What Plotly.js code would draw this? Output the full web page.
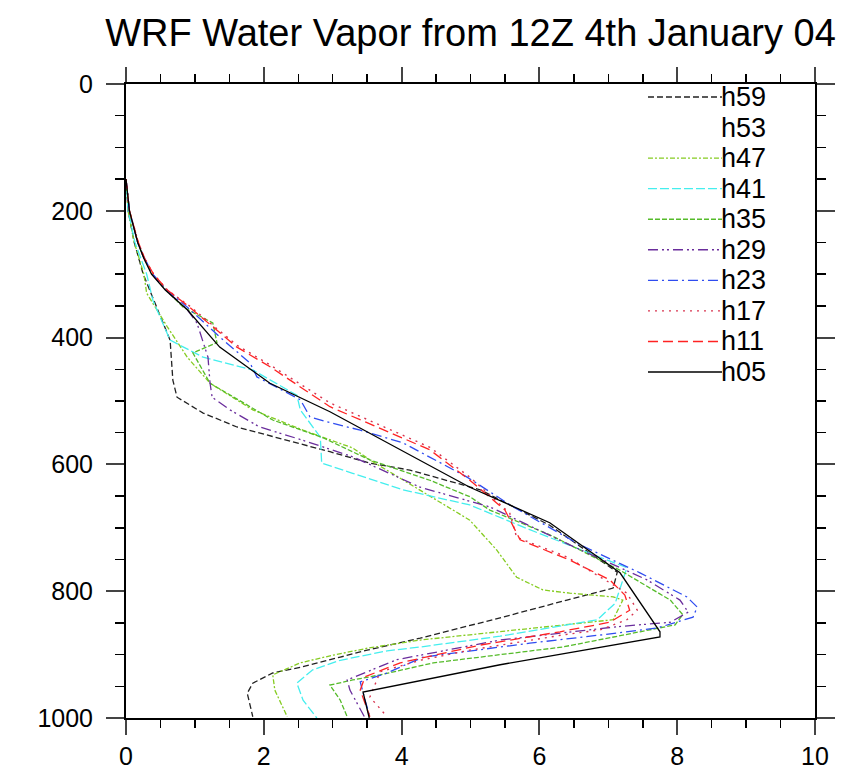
<!DOCTYPE html>
<html>
<head>
<meta charset="utf-8">
<script src="https://cdn.plot.ly/plotly-3.0.1.min.js"></script>
<style>html,body{margin:0;padding:0;background:#fff;}#chart{width:868px;height:778px;}</style>
</head>
<body>
<div id="chart"></div>
<script>
// Series names (legend order, top to bottom)
const seriesNames = ["h59","h53","h47","h41","h35","h29","h23","h17","h11","h05"];

// Pressure (hPa) and water vapour values for each series
const h59_p = [150,200,250,300,404,467,494,519,541,562,580,598,609,640,696,770,795,814,842,874,893,904,920,929,945,961,979,998];
const h59_v = [0,0.03,0.12,0.25,0.64,0.68,0.74,1.12,1.61,2.34,2.96,3.54,4.12,5.14,6.15,7.13,7.07,6.40,5.43,4.27,3.50,3.11,2.53,2.13,1.84,1.76,1.80,1.84];

const h53_p = [null];
const h53_v = [null];

const h47_p = [150,200,250,300,330,383,431,472,514,546,574,593,688,735,778,798,803,809,814,845,877,890,901,913,932,956,998];
const h47_v = [0,0.03,0.12,0.26,0.30,0.60,0.89,1.22,1.84,2.57,3.29,3.54,4.99,5.38,5.67,6.05,6.44,7.07,7.21,7.07,4.27,3.50,3.00,2.53,2.13,2.16,2.34];

const h41_p = [150,200,250,300,341,404,431,451,491,514,557,598,614,640,664,703,763,819,845,871,888,894,909,924,945,972,1000];
const h41_v = [0,0.03,0.13,0.30,0.39,0.64,1.12,1.84,2.48,2.53,2.82,2.84,3.29,4.02,4.99,5.86,7.27,7.10,6.84,5.43,4.27,3.79,3.11,2.71,2.48,2.57,2.77];

const h35_p = [150,200,250,275,300,325,352,377,408,424,472,530,558,593,625,651,672,711,767,814,837,853,864,888,913,932,940,948,972,998];
const h35_v = [0,0.05,0.17,0.26,0.38,0.58,0.83,1.26,1.32,0.97,1.22,2.13,2.86,3.54,4.41,4.99,5.28,6.15,7.17,7.90,8.08,7.97,7.46,6.34,4.46,3.69,3.29,2.96,3.11,3.21];

const h29_p = [150,200,250,275,300,325,356,377,431,472,494,514,541,562,588,636,667,727,782,814,833,849,856,877,908,940,956,987,1000];
const h29_v = [0,0.05,0.17,0.26,0.38,0.58,0.89,1.03,1.19,1.22,1.25,1.51,1.94,2.57,3.29,4.27,5.28,6.44,7.56,8.04,8.16,7.90,7.13,5.43,3.93,3.21,3.25,3.40,3.47];

const h23_p = [150,200,250,275,300,325,352,399,440,462,498,525,533,546,566,620,667,727,771,809,825,841,858,866,882,904,929,943,972,998];
const h23_v = [0,0.05,0.17,0.27,0.39,0.59,0.89,1.36,1.80,1.90,2.53,2.67,2.92,3.40,4.02,4.95,5.62,6.59,7.46,8.14,8.29,8.23,7.71,7.13,5.86,4.31,3.79,3.40,3.47,3.54];

const h17_p = [150,200,250,275,300,325,350,412,443,503,573,620,677,715,746,778,803,830,845,861,869,893,909,927,967,998];
const h17_v = [0,0.05,0.18,0.27,0.40,0.60,0.92,1.61,2.09,2.96,4.41,4.99,5.57,5.67,6.40,6.88,7.27,7.42,7.27,6.88,6.34,4.99,4.27,3.69,3.54,3.79];

const h11_p = [150,200,250,275,300,325,350,415,446,509,577,625,672,719,751,782,806,830,849,864,885,913,935,956,998];
const h11_v = [0,0.05,0.18,0.27,0.40,0.60,0.90,1.61,2.09,2.96,4.41,4.99,5.50,5.72,6.44,7.02,7.24,7.31,7.02,6.30,5.14,3.98,3.47,3.40,3.54];

const h05_p = [150,200,250,275,300,325,356,415,472,517,636,692,771,864,872,916,959,1000];
const h05_v = [0,0.05,0.17,0.26,0.37,0.57,0.89,1.36,2.09,2.96,4.99,6.15,7.17,7.75,7.75,5.43,3.44,3.53];

const xTicks = [0,2,4,6,8,10];
const yTicks = [0,200,400,600,800,1000];

const seriesData = {
  h59:[h59_v,h59_p], h53:[h53_v,h53_p], h47:[h47_v,h47_p], h41:[h41_v,h41_p],
  h35:[h35_v,h35_p], h29:[h29_v,h29_p], h23:[h23_v,h23_p], h17:[h17_v,h17_p],
  h11:[h11_v,h11_p], h05:[h05_v,h05_p]
};
const styles = {
  h59:{color:'#222222', dash:'6px,3px', width:1.3},
  h53:{color:'rgba(255,255,255,0)', dash:'solid', width:1.3},
  h47:{color:'#86cc22', dash:'5px,2px,2px,2px', width:1.3},
  h41:{color:'#44eeee', dash:'9px,3px', width:1.3},
  h35:{color:'#55bb2a', dash:'5px,2px', width:1.3},
  h29:{color:'#6a2d9c', dash:'10px,4px,2px,3px,2px,4px', width:1.3},
  h23:{color:'#2f4cf0', dash:'10px,4px,2px,4px', width:1.3},
  h17:{color:'#d8344f', dash:'2px,5px', width:1.4},
  h11:{color:'#ff2222', dash:'10px,5px', width:1.3},
  h05:{color:'#000000', dash:'solid', width:1.3}
};

const traces = seriesNames.map(n => ({
  type:'scatter', mode:'lines', name:n,
  x: seriesData[n][0], y: seriesData[n][1],
  line:{color:styles[n].color, dash:styles[n].dash, width:styles[n].width},
  hoverinfo:'skip', showlegend:false
}));

const font = 'Liberation Sans, Arial, Helvetica, sans-serif';

// Hand-built legend (NCL style: long line sample, label at its right end)
const legX0 = 0.7576, legX1 = 0.865, legY0 = 0.9795, legStep = 0.0482;
const shapes = [], annotations = [];
seriesNames.forEach((n, i) => {
  const yy = legY0 - i * legStep;
  shapes.push({type:'line', xref:'paper', yref:'paper', x0:legX0, x1:legX1, y0:yy, y1:yy,
               line:{color:styles[n].color, dash:styles[n].dash, width:1.4}});
  annotations.push({xref:'paper', yref:'paper', x:legX1, y:yy, xanchor:'left', yanchor:'middle',
                    text:n, showarrow:false, font:{family:font, size:27, color:'#000'}, xshift:-3});
});

const layout = {
  width:868, height:778,
  margin:{l:126, r:53, t:84, b:60},
  paper_bgcolor:'#fff', plot_bgcolor:'#fff',
  title:{text:'WRF Water Vapor from 12Z 4th January 04', font:{family:font, size:38, color:'#000'},
         x:0.5, xref:'paper', xanchor:'center', y:0.958, yref:'container', yanchor:'middle'},
  xaxis:{range:[0,10], tickvals:xTicks, ticktext:xTicks.map(String), ticks:'outside', ticklen:15, tickwidth:2,
         showline:true, linewidth:2, linecolor:'#000', mirror:'allticks', showgrid:false, zeroline:false,
         tickfont:{family:font, size:25, color:'#000'},
         minor:{dtick:0.5, tick0:0, ticks:'outside', ticklen:8, tickwidth:1.5, tickcolor:'#000', showgrid:false}},
  yaxis:{range:[1000,0], tickvals:yTicks, ticktext:yTicks.map(String), ticks:'outside', ticklen:18, tickwidth:2,
         showline:true, linewidth:2, linecolor:'#000', mirror:'allticks', showgrid:false, zeroline:false,
         ticklabelstandoff:8,
         tickfont:{family:font, size:25, color:'#000'},
         minor:{dtick:50, tick0:0, ticks:'outside', ticklen:9, tickwidth:1.5, tickcolor:'#000', showgrid:false}},
  showlegend:false,
  shapes:shapes,
  annotations:annotations
};
Plotly.newPlot('chart', traces, layout, {displayModeBar:false, staticPlot:true});
</script>
</body>
</html>
